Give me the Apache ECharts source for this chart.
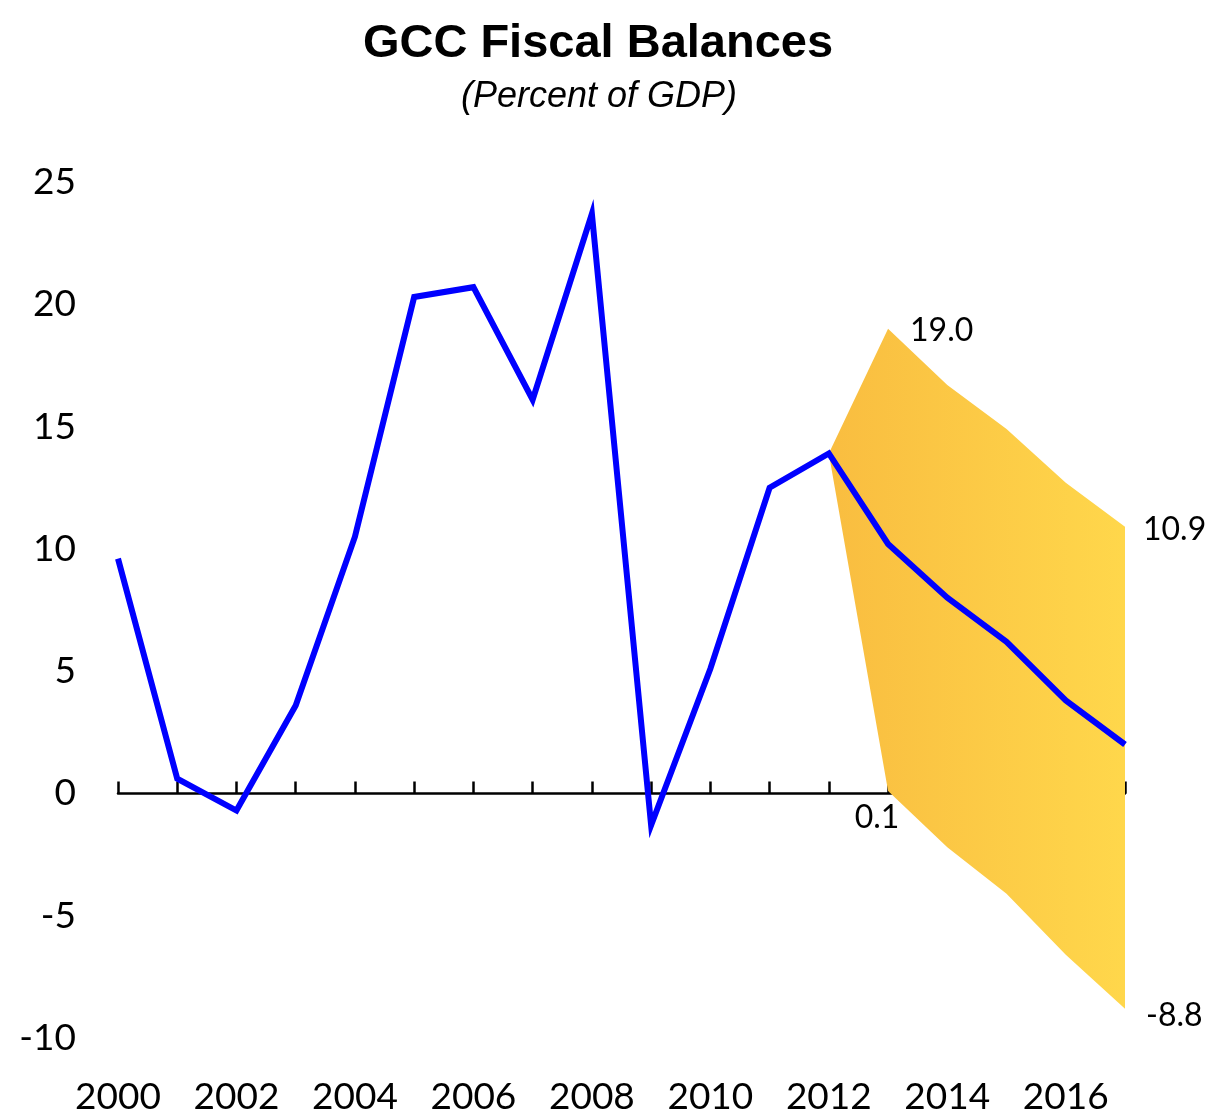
<!DOCTYPE html>
<html>
<head>
<meta charset="utf-8">
<script src="https://cdn.jsdelivr.net/npm/echarts@6/dist/echarts.min.js"></script>
<style>
  html, body { margin: 0; padding: 0; background: #fff; }
  #chart { width: 1213px; height: 1116px; }
</style>
</head>
<body>
<div id="chart"></div>
<script>
// data
const years = ['2000', '2001', '2002', '2003', '2004', '2005', '2006', '2007', '2008',
  '2009', '2010', '2011', '2012', '2013', '2014', '2015', '2016', '2017'];
const balance = [9.6, 0.6, -0.7, 3.6, 10.5, 20.3, 20.7, 16.1, 23.7,
  -1.3, 5.1, 12.5, 13.9, 10.2, 8.0, 6.2, 3.8, 2.0];
const bandYears = ['2012', '2013', '2014', '2015', '2016', '2017'];
const bandUpper = [13.9, 19.0, 16.7, 14.9, 12.7, 10.9];
const bandLower = [13.9, 0.1, -2.2, -4.1, -6.6, -8.8];
const yTicks = [-10, 25, 5];

const font = 'Lato';
const chart = echarts.init(document.getElementById('chart'));

// band polygon: upper edge left to right, then lower edge back
function renderBand(params, api) {
  const pts = [];
  bandYears.forEach((y, i) => pts.push(api.coord([y, bandUpper[i]])));
  for (let i = bandYears.length - 1; i >= 0; i--) pts.push(api.coord([bandYears[i], bandLower[i]]));
  return {
    type: 'polygon',
    shape: { points: pts },
    style: {
      fill: new echarts.graphic.LinearGradient(0, 0, 1, 0, [
        { offset: 0, color: '#f9bd40' },
        { offset: 1, color: '#ffd74b' }
      ])
    }
  };
}

const endLabels = [
  { value: ['2013', bandUpper[1]], label: { formatter: '19.0', position: 'right', offset: [17, 2] } },
  { value: ['2017', bandUpper[5]], label: { formatter: '10.9', position: 'right', offset: [13, 3] } },
  { value: ['2013', bandLower[1]], label: { formatter: '0.1', position: 'bottom', offset: [-11, 6] } },
  { value: ['2017', bandLower[5]], label: { formatter: '-8.8', position: 'right', offset: [16, 7] } }
];

chart.setOption({
  animation: false,
  title: [
    {
      text: 'GCC Fiscal Balances', left: 593, top: 16, textAlign: 'center',
      textStyle: { fontFamily: 'Liberation Sans', fontWeight: 'bold', fontSize: 47, color: '#000' }
    },
    {
      text: '(Percent of GDP)', left: 594, top: 74, textAlign: 'center',
      textStyle: { fontFamily: 'Liberation Sans', fontStyle: 'italic', fontWeight: 'normal', fontSize: 36, color: '#000' }
    }
  ],
  grid: { left: 118, right: 88, top: 182, bottom: 73 },
  xAxis: [
    {
      type: 'category', data: years, boundaryGap: false,
      axisLine: { onZero: true, lineStyle: { color: '#000', width: 2.5 } },
      axisTick: { inside: true, length: 12, interval: 0, lineStyle: { color: '#000', width: 2.5 } },
      axisLabel: { show: false },
      splitLine: { show: false }
    },
    {
      type: 'category', data: years, boundaryGap: false, position: 'bottom',
      axisLine: { show: false, onZero: false },
      axisTick: { show: false },
      axisLabel: { interval: 1, margin: 41, fontFamily: font, fontSize: 37, color: '#000' },
      splitLine: { show: false }
    }
  ],
  yAxis: {
    type: 'value', min: yTicks[0], max: yTicks[1], interval: yTicks[2],
    axisLine: { show: false }, axisTick: { show: false }, splitLine: { show: false },
    axisLabel: { margin: 42, fontFamily: font, fontSize: 37, color: '#000' }
  },
  series: [
    {
      type: 'custom', name: 'band', renderItem: renderBand, data: [[bandYears[0], bandUpper[0]]],
      silent: true, z: 1
    },
    {
      type: 'line', name: 'balance', data: balance, symbol: 'none', z: 3,
      lineStyle: { color: '#0000ff', width: 6, join: 'miter' }
    },
    {
      type: 'scatter', data: endLabels, symbolSize: 0, z: 4, silent: true,
      itemStyle: { opacity: 1, color: 'transparent' },
      label: { show: true, fontFamily: font, fontSize: 32, color: '#000' }
    }
  ]
});
</script>
</body>
</html>
